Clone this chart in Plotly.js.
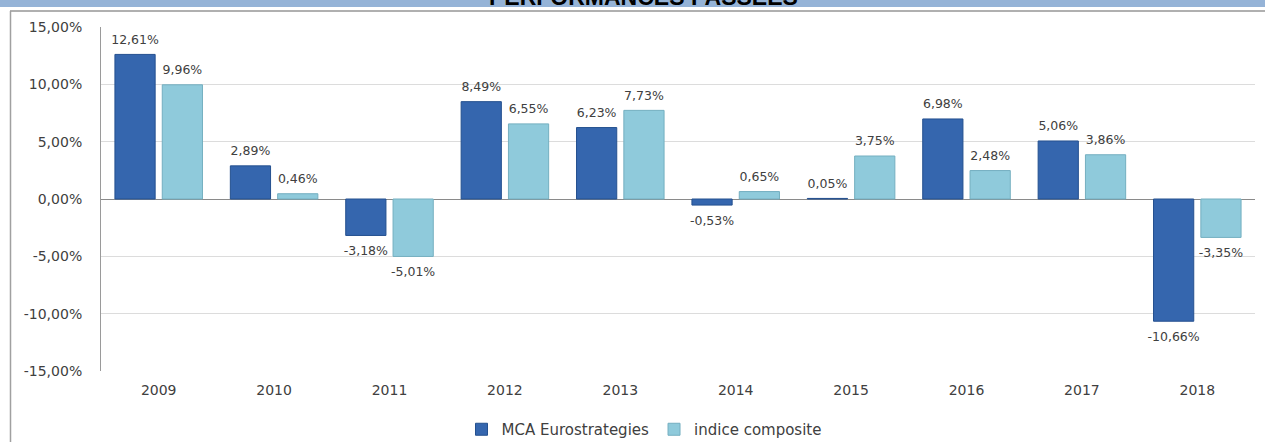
<!DOCTYPE html>
<html>
<head>
<meta charset="utf-8">
<script src="https://cdn.plot.ly/plotly-3.0.1.min.js"></script>
<style>
html,body{margin:0;padding:0;background:#fff;overflow:hidden;}
#chart{width:1265px;height:442px;}
</style>
</head>
<body>
<div id="chart"></div>
<script>
var years = ['2009','2010','2011','2012','2013','2014','2015','2016','2017','2018'];
var mcaValues = [12.61, 2.89, -3.18, 8.49, 6.23, -0.53, 0.05, 6.98, 5.06, -10.66];
var indiceValues = [9.96, 0.46, -5.01, 6.55, 7.73, 0.65, 3.75, 2.48, 3.86, -3.35];
var yTickVals = [-15, -10, -5, 0, 5, 10, 15];
var yTickText = ['-15,00%', '-10,00%', '-5,00%', '0,00%', '5,00%', '10,00%', '15,00%'];
var seriesNames = ['MCA Eurostrategies', 'indice composite'];
var chartTitle = 'PERFORMANCES PASSEES';

var W = 1265, H = 442, L = 101, R = 10, T = 27, B = 71;
var pw = W - L - R, ph = H - T - B;
function px(X){ return (X - L) / pw; }
function py(Y){ return (H - B - Y) / ph; }

var FONT = 'DejaVu Sans, Verdana, sans-serif';
var labelFont = {family: FONT, size: 12.5, color: '#404040'};
var colors = ['#3566AE', '#8FCADB'];
var lineColors = ['#24508F', '#74AFC0'];
var seriesValues = [mcaValues, indiceValues];

var traces = [];
seriesValues.forEach(function(vals, i){
  traces.push({
    type: 'bar', name: seriesNames[i], x: years, y: vals,
    offsetgroup: String(i),
    marker: {color: colors[i], line: {color: lineColors[i], width: 1}},
    hoverinfo: 'none'
  });
});
seriesValues.forEach(function(vals, i){
  traces.push({
    type: 'scatter', mode: 'markers+text', x: years, y: vals,
    offsetgroup: String(i), showlegend: false, cliponaxis: false,
    marker: {color: 'rgba(0,0,0,0)', opacity: 0, line: {width: 0, color: 'rgba(0,0,0,0)'},
             size: vals.map(function(v){ return v >= 0 ? 10.5 : 14.5; })},
    text: vals.map(function(v){ return v.toFixed(2).replace('.', ',') + '%'; }),
    textposition: vals.map(function(v){ return v >= 0 ? 'top center' : 'bottom center'; }),
    textfont: labelFont, hoverinfo: 'none'
  });
});

var layout = {
  width: W, height: H,
  margin: {l: L, r: R, t: T, b: B, pad: 0, autoexpand: false},
  paper_bgcolor: '#ffffff', plot_bgcolor: '#ffffff',
  separators: ', ',
  barmode: 'group', bargap: 0.18, bargroupgap: 0.15,
  scattermode: 'group', scattergap: 0.18,
  showlegend: true,
  legend: {
    orientation: 'h', x: px(644), xanchor: 'center', y: py(413), yanchor: 'top',
    font: {family: FONT, size: 15, color: '#404040'},
    itemwidth: 30, traceorder: 'normal'
  },
  xaxis: {
    type: 'category', showgrid: false, showline: false, zeroline: false,
    ticks: '', ticklabelstandoff: 9, automargin: false,
    tickfont: {family: FONT, size: 14, color: '#404040'}
  },
  yaxis: {
    range: [-15, 15], tickvals: yTickVals, ticktext: yTickText, automargin: false,
    showgrid: true, gridcolor: '#DCDCDC', gridwidth: 1,
    zeroline: true, zerolinecolor: '#8A8A8A', zerolinewidth: 1,
    showline: true, linecolor: '#9A9A9A', linewidth: 1,
    ticks: '', ticklabelstandoff: 15,
    tickfont: {family: FONT, size: 14, color: '#404040'}
  },
  shapes: [
    {type: 'rect', xref: 'paper', yref: 'paper', x0: px(0), x1: px(W), y0: py(7), y1: py(-2),
     fillcolor: '#95B3D7', line: {width: 0}, layer: 'below'},
    {type: 'line', xref: 'paper', yref: 'paper', x0: px(10), x1: px(W), y0: py(11), y1: py(11),
     line: {color: '#B0B0B0', width: 2}},
    {type: 'line', xref: 'paper', yref: 'paper', x0: px(10.5), x1: px(10.5), y0: py(11), y1: py(H + 2),
     line: {color: '#A0A0A0', width: 1.5}}
  ],
  annotations: [
    {xref: 'paper', yref: 'paper', x: px(643), y: py(12), xanchor: 'center', yanchor: 'bottom',
     text: '<b>' + chartTitle + '</b>', showarrow: false,
     font: {family: 'Liberation Sans, Arial, sans-serif', size: 23, color: '#000000'}}
  ]
};

Plotly.newPlot('chart', traces, layout, {staticPlot: true, displayModeBar: false});
</script>
</body>
</html>
